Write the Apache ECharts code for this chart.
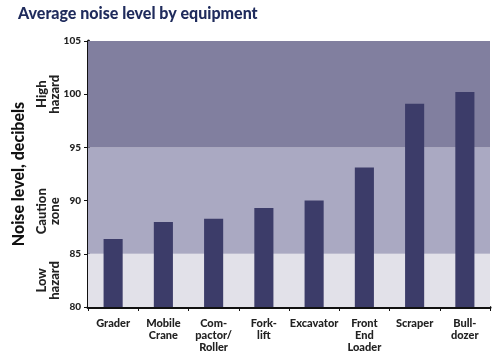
<!DOCTYPE html>
<html><head><meta charset="utf-8">
<script src="https://cdn.jsdelivr.net/npm/echarts@6/dist/echarts.min.js"></script>
<style>html,body{margin:0;padding:0;background:#fff}#c{width:498px;height:355px}</style>
</head><body><div id="c"></div>
<script>
const categories = ["Grader","Mobile\nCrane","Com-\npactor/\nRoller","Fork-\nlift","Excavator","Front\nEnd\nLoader","Scraper","Bull-\ndozer"];
const noiseLevels = [86.4, 88.0, 88.3, 89.3, 90.0, 93.1, 99.1, 100.2];
const zones = [
  {name:"Low\nhazard", from:80, to:85, labelAt:82.5, color:"#e2e1e9"},
  {name:"Caution\nzone", from:85, to:95, labelAt:89, color:"#aaa9c2"},
  {name:"High\nhazard", from:95, to:105, labelAt:100, color:"#817f9f"}
];
const yTicks = [80, 85, 90, 95, 100, 105];

const chart = echarts.init(document.getElementById('c'));
const font = 'Lato';
chart.setOption({
  animation:false,
  title:{text:"Average noise level by equipment", left:13, top:1,
    textStyle:{fontFamily:font, fontWeight:900, fontSize:16, color:'#1f2b5c'}},
  grid:{left:88, right:8, top:41, bottom:48},
  xAxis:{type:'category', data:categories,
    axisLine:{lineStyle:{color:'#111', width:3}},
    axisTick:{show:true, length:4, lineStyle:{color:'#111', width:1}},
    axisLabel:{fontFamily:font, fontWeight:900, fontSize:11, color:'#222', lineHeight:12, margin:10, interval:0}},
  yAxis:[{type:'value', min:80, max:105, interval:5,
    name:"Noise level, decibels", nameLocation:'middle', nameGap:61, nameRotate:90,
    nameTextStyle:{fontFamily:font, fontWeight:900, fontSize:16, color:'#111'},
    splitLine:{show:false},
    axisLine:{show:true, lineStyle:{color:'#111', width:3}},
    axisTick:{show:true, length:4, lineStyle:{color:'#111'}},
    axisLabel:{fontFamily:font, fontWeight:900, fontSize:10, color:'#222', margin:7,
      formatter:v => yTicks.includes(v) ? String(v) : ''}},
   {type:'value', min:80, max:105, interval:0.5, position:'left', offset:27,
    splitLine:{show:false}, axisLine:{show:false}, axisTick:{show:false},
    axisLabel:{fontFamily:font, fontWeight:900, fontSize:13, color:'#222', rotate:90,
      lineHeight:13, margin:0, showMinLabel:true, showMaxLabel:true,
      formatter:v => { const z = zones.find(z => Math.abs(z.labelAt - v) < 1e-6); return z ? z.name : ''; }}}
  ],
  series:[{type:'bar', data:noiseLevels, barWidth:'38%', yAxisIndex:0,
    itemStyle:{color:'#3c3c69'},
    markArea:{silent:true,
      data: zones.map(z => [{yAxis:z.from, itemStyle:{color:z.color}}, {yAxis:z.to}])}
  }]
});
</script></body></html>
